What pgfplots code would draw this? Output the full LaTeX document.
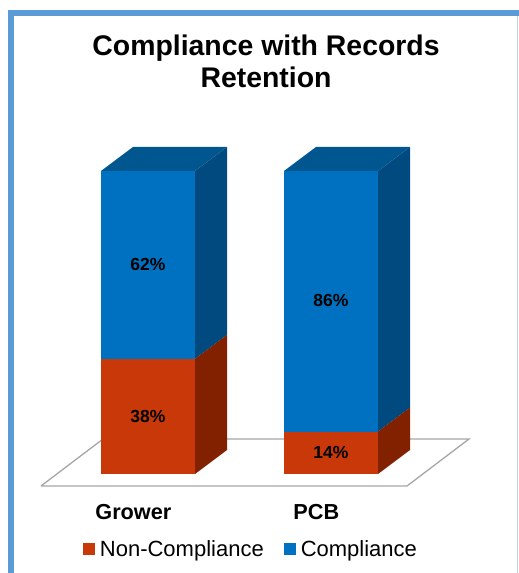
\documentclass[border=0pt]{standalone}
\usepackage{pgfplots}
\pgfplotsset{compat=1.18}
\usepackage{fontspec}
\setmainfont{Liberation Sans}
\definecolor{cblue}{HTML}{0070C0}
\definecolor{cbluetop}{HTML}{00568F}
\definecolor{cblueside}{HTML}{004A80}
\definecolor{corange}{HTML}{C93808}
\definecolor{corangeside}{HTML}{812100}
\definecolor{frameblue}{HTML}{5B9BD5}
\definecolor{framelight}{HTML}{BDD7EE}
\begin{document}
\begin{tikzpicture}
\begin{axis}[
  scale only axis, width=519pt, height=573pt,
  xmin=-0.8087, xmax=2.0273, ymin=-32.67, ymax=156.43,
  axis line style={draw=none}, tick style={draw=none},
  ytick=\empty,
  xtick={-0.08,0.92}, xticklabels={Grower,PCB},
  x tick label style={font=\bfseries\fontsize{21.7}{26}\selectfont, yshift=61pt, anchor=center},
  legend style={draw=none, fill=none, at={(axis cs:0.5625,-24.8)}, anchor=center,
    legend columns=2, font=\fontsize{22}{26}\selectfont,
    /tikz/every even column/.append style={column sep=18pt},
    inner sep=0pt},
  legend image code/.code={\fill[#1,draw=none] (0.5pt,-6pt) rectangle (12pt,6pt); \path[draw=none] (0pt,0pt) -- (15pt,0pt);},
  clip=false,
]
% frame
\fill[frameblue] (rel axis cs:0.0154,0) rectangle (rel axis cs:0.027,0.982);
\fill[frameblue] (rel axis cs:0.0154,0.972) rectangle (rel axis cs:1,0.982);
\fill[framelight] (rel axis cs:0.997,0) rectangle (rel axis cs:0.999,0.972);
% floor
\addplot[draw=black!35, line width=1.3pt, fill=white, forget plot] coordinates
  {(-0.5847,-3.96) (1.4153,-3.96) (1.7541,11.55) (-0.2459,11.55) (-0.5847,-3.96)};
\addlegendimage{corange}\addlegendentry{Non-Compliance}
\addlegendimage{cblue}\addlegendentry{Compliance}
% Grower: compliance 62 on non-compliance 38
\addplot[fill=cblue,draw=none,forget plot] coordinates {(-0.257,38) (0.257,38) (0.257,100) (-0.257,100)} --cycle;
\addplot[fill=corange,draw=none,forget plot] coordinates {(-0.257,0) (0.257,0) (0.257,38) (-0.257,38)} --cycle;
\addplot[fill=cblueside,draw=none,forget plot] coordinates {(0.257,38) (0.432,45.92) (0.432,107.92) (0.257,100)} --cycle;
\addplot[fill=corangeside,draw=none,forget plot] coordinates {(0.257,0) (0.432,7.92) (0.432,45.92) (0.257,38)} --cycle;
\addplot[fill=cbluetop,draw=none,forget plot] coordinates {(-0.257,100) (0.257,100) (0.432,107.92) (-0.082,107.92)} --cycle;
% PCB: compliance 86 on non-compliance 14
\addplot[fill=cblue,draw=none,forget plot] coordinates {(0.743,14) (1.257,14) (1.257,100) (0.743,100)} --cycle;
\addplot[fill=corange,draw=none,forget plot] coordinates {(0.743,0) (1.257,0) (1.257,14) (0.743,14)} --cycle;
\addplot[fill=cblueside,draw=none,forget plot] coordinates {(1.257,14) (1.432,21.92) (1.432,107.92) (1.257,100)} --cycle;
\addplot[fill=corangeside,draw=none,forget plot] coordinates {(1.257,0) (1.432,7.92) (1.432,21.92) (1.257,14)} --cycle;
\addplot[fill=cbluetop,draw=none,forget plot] coordinates {(0.743,100) (1.257,100) (1.432,107.92) (0.918,107.92)} --cycle;
% labels
\begin{scope}[every node/.style={font=\bfseries\fontsize{17.5}{21}\selectfont, text=black, inner sep=0pt}]
\node at (axis cs:0,69.3) {62\%};
\node at (axis cs:0,19.0) {38\%};
\node at (axis cs:1,57.3) {86\%};
\node at (axis cs:1,7.0) {14\%};
\end{scope}
\node[font=\bfseries\fontsize{28.4}{32}\selectfont, align=center, text=black, inner sep=0pt] at (axis cs:0.645,136.3) {Compliance with Records\\Retention};
\end{axis}
\end{tikzpicture}
\end{document}
